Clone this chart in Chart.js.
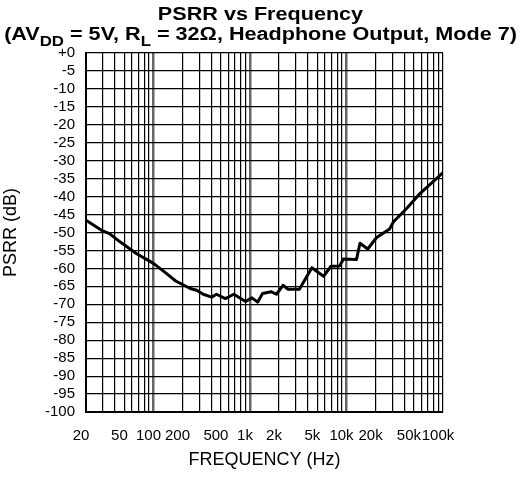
<!DOCTYPE html>
<html>
<head>
<meta charset="utf-8">
<script src="https://cdn.jsdelivr.net/npm/chart.js@4"></script>
<style>
  html, body { margin: 0; padding: 0; background: #fff; }
  #wrap { width: 521px; height: 483px; }
</style>
</head>
<body>
<div id="wrap"><canvas id="psrrChart" width="521" height="483"></canvas></div>
<script>
// PSRR curve, headphone output, mode 7
const freqs = [20, 29, 35, 45, 67, 100, 136, 170, 240, 280, 328, 400, 450, 555, 680, 900,
  1050, 1200, 1350, 1650, 1880, 2200, 2480, 3250, 4380, 5780, 6900, 8500, 9300, 12700,
  13800, 16600, 20500, 28000, 30700, 42000, 58000, 75000, 100000];
const psrr = [-46.6, -49.4, -50.3, -52.6, -55.9, -58.6, -61.4, -63.5, -65.6, -66.1, -67.2, -68.0, -67.2, -68.4, -67.2, -69.2,
  -68.2, -69.4, -67.0, -66.5, -67.2, -64.7, -65.8, -65.8, -59.8, -62.2, -59.4, -59.3, -57.4, -57.5,
  -53.0, -54.6, -51.4, -49.0, -47.0, -43.3, -39.1, -36.4, -33.3];

// x axis labels
const labeledFreqs = [20, 50, 100, 200, 500, 1000, 2000, 5000, 10000, 20000, 50000, 100000];
const freqLabels = ["20", "50", "100", "200", "500", "1k", "2k", "5k", "10k", "20k", "50k", "100k"];
const decadeLines = [100, 1000, 10000];

// log grid: 1..9 within each decade
const gridFreqs = [];
[10, 100, 1000, 10000].forEach(d => {
  for (let k = 1; k <= 9; k++) {
    const f = d * k;
    if (f >= 20 && f <= 100000) gridFreqs.push(f);
  }
});
gridFreqs.push(100000);

const FONT = "'Liberation Sans', Arial, sans-serif";

// header text with subscripts (slightly widened face)
const headerPlugin = {
  id: "header",
  afterDraw(chart) {
    const ctx = chart.ctx;
    const cx = 260.5;
    const sx = 1.2;
    ctx.save();
    ctx.fillStyle = "#000";
    ctx.textBaseline = "alphabetic";
    ctx.textAlign = "left";

    const drawParts = (parts, y) => {
      const setFont = sub => ctx.font = sub ? `bold 14px ${FONT}` : `bold 18px ${FONT}`;
      let total = 0;
      parts.forEach(([s, sub]) => { setFont(sub); total += ctx.measureText(s).width; });
      let x = cx / sx - total / 2;
      ctx.save();
      ctx.scale(sx, 1);
      parts.forEach(([s, sub]) => {
        setFont(sub);
        ctx.fillText(s, x, sub ? y + 6.5 : y);
        x += ctx.measureText(s).width;
      });
      ctx.restore();
    };

    drawParts([["PSRR vs Frequency", false]], 19.5);
    drawParts([
      ["(AV", false], ["DD", true], [" = 5V, R", false], ["L", true],
      [" = 32\u03A9, Headphone Output, Mode 7)", false]
    ], 39.5);
    ctx.restore();
  }
};

new Chart(document.getElementById("psrrChart"), {
  type: "line",
  data: {
    datasets: [{
      data: freqs.map((f, i) => ({ x: f, y: psrr[i] })),
      borderColor: "#000",
      borderWidth: 3,
      pointRadius: 0,
      tension: 0,
      borderJoinStyle: "round",
      borderCapStyle: "round"
    }]
  },
  options: {
    responsive: false,
    animation: false,
    devicePixelRatio: 1,
    layout: { padding: { top: 53, right: 78, left: 0, bottom: 0 } },
    plugins: { legend: { display: false }, tooltip: { enabled: false } },
    scales: {
      x: {
        type: "logarithmic",
        min: 20,
        max: 100000,
        afterBuildTicks: s => { s.ticks = gridFreqs.map(v => ({ value: v })); },
        afterFit: s => { s.height = 71; },
        ticks: {
          autoSkip: false,
          maxRotation: 0,
          minRotation: 0,
          padding: 15,
          labelOffset: -5,
          color: "#000",
          font: { family: FONT, size: 15 },
          callback: v => {
            const i = labeledFreqs.indexOf(v);
            return i >= 0 ? freqLabels[i] : "";
          }
        },
        grid: {
          drawTicks: false,
          color: c => decadeLines.includes(c.tick && c.tick.value) ? "#666" : "#000",
          lineWidth: c => decadeLines.includes(c.tick && c.tick.value) ? 2.5 : 1.2
        },
        border: { color: "#000", width: 2 },
        title: {
          display: true,
          text: "FREQUENCY (Hz)",
          color: "#000",
          font: { family: FONT, size: 18 },
          padding: { top: 0, bottom: 12 }
        }
      },
      y: {
        min: -100,
        max: 0,
        afterFit: s => { s.width = 86; },
        ticks: {
          stepSize: 5,
          autoSkip: false,
          padding: 11,
          color: "#000",
          font: { family: FONT, size: 15 },
          callback: v => v === 0 ? "+0" : String(v)
        },
        grid: { drawTicks: false, color: "#000", lineWidth: 1.2 },
        border: { color: "#000", width: 2 },
        title: {
          display: true,
          text: "PSRR (dB)",
          color: "#000",
          font: { family: FONT, size: 18 },
          padding: { top: 0, bottom: 0 }
        }
      }
    }
  },
  plugins: [headerPlugin]
});
</script>
</body>
</html>
